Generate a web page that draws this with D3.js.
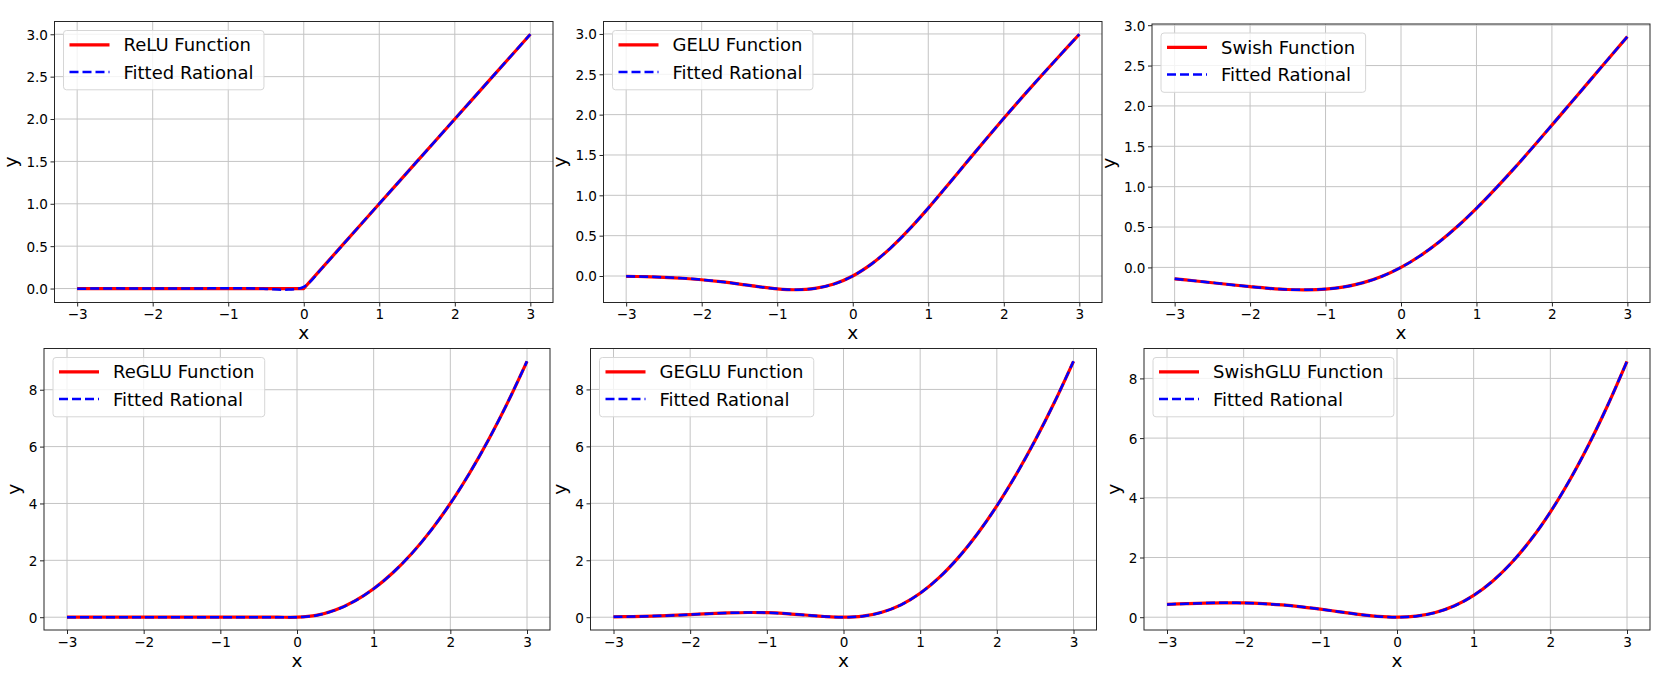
<!DOCTYPE html>
<html>
<head>
<meta charset="utf-8">
<script src="https://cdn.jsdelivr.net/npm/d3@7"></script>
<style>
  html, body { margin: 0; padding: 0; background: #fff; }
  svg { display: block; font-family: "DejaVu Sans", sans-serif; }
</style>
</head>
<body>
<svg id="chart" width="1661" height="680"></svg>
<script>
// ---------------- data ----------------
const xs = [-3,-2.75,-2.5,-2.25,-2,-1.75,-1.5,-1.25,-1,-0.75,-0.5,-0.25,0,0.25,0.5,0.75,1,1.25,1.5,1.75,2,2.25,2.5,2.75,3];

const reluY    = [0,0,0,0,0,0,0,0,0,0,0,0,0,0.25,0.5,0.75,1,1.25,1.5,1.75,2,2.25,2.5,2.75,3];
const reluFit  = [-0.003,0.000,0.002,0.001,0.000,0.000,0.001,0.002,0.003,0.002,-0.004,-0.014,0.020,0.248,0.498,0.751,1.001,1.250,1.500,1.750,2.000,2.250,2.500,2.750,3.000];

const geluY    = [-0.004,-0.008,-0.016,-0.028,-0.046,-0.070,-0.100,-0.132,-0.159,-0.170,-0.154,-0.100,0,0.150,0.346,0.580,0.841,1.118,1.400,1.680,1.955,2.223,2.485,2.742,2.996];
const geluFit  = [-0.004,-0.008,-0.016,-0.028,-0.046,-0.070,-0.100,-0.132,-0.159,-0.170,-0.154,-0.100,0,0.150,0.346,0.580,0.841,1.118,1.400,1.680,1.955,2.223,2.485,2.742,2.996];

const swishY   = [-0.142,-0.165,-0.190,-0.215,-0.238,-0.259,-0.274,-0.278,-0.269,-0.241,-0.189,-0.110,0,0.141,0.311,0.509,0.731,0.972,1.226,1.491,1.762,2.036,2.310,2.585,2.858];
const swishFit = [-0.142,-0.165,-0.190,-0.215,-0.238,-0.259,-0.274,-0.278,-0.269,-0.241,-0.189,-0.110,0,0.141,0.311,0.509,0.731,0.972,1.226,1.491,1.762,2.036,2.310,2.585,2.858];

const regluY   = [0,0,0,0,0,0,0,0,0,0,0,0,0,0.063,0.250,0.563,1.000,1.563,2.250,3.063,4.000,5.063,6.250,7.563,9.000];
const regluFit = [0,0,0,0,0,0,0,0,0,0,0,0,0,0.063,0.250,0.563,1.000,1.563,2.250,3.063,4.000,5.063,6.250,7.563,9.000];

const gegluY   = [0.012,0.023,0.039,0.062,0.091,0.123,0.150,0.165,0.159,0.128,0.077,0.025,0,0.037,0.173,0.435,0.841,1.397,2.100,2.940,3.909,5.001,6.211,7.540,8.988];
const gegluFit = [0.012,0.023,0.039,0.062,0.091,0.123,0.150,0.165,0.159,0.128,0.077,0.025,0,0.037,0.173,0.435,0.841,1.397,2.100,2.940,3.909,5.001,6.211,7.540,8.988];

const swishgluY   = [0.427,0.454,0.474,0.483,0.477,0.453,0.411,0.348,0.269,0.181,0.094,0.027,0,0.035,0.156,0.382,0.731,1.215,1.840,2.609,3.523,4.580,5.776,7.109,8.573];
const swishgluFit = [0.427,0.454,0.474,0.483,0.477,0.453,0.411,0.348,0.269,0.181,0.094,0.027,0,0.035,0.156,0.382,0.731,1.215,1.840,2.609,3.523,4.580,5.776,7.109,8.573];

const functionNames = ["ReLU Function","GELU Function","Swish Function","ReGLU Function","GEGLU Function","SwishGLU Function"];
const fitLabel = "Fitted Rational";
const xTicks = [-3,-2,-1,0,1,2,3];
const yTicksTop = [0,0.5,1,1.5,2,2.5,3];
const yTicksBottom = [0,2,4,6,8];

// ---------------- layout ----------------
const panels = [
  {fn: reluY,     fit: reluFit,     name: functionNames[0], yt: yTicksTop,    fmt: d3.format(".1f"), l: 54.5,  r: 553,    t: 21.5, b: 302.5, linearFn: true},
  {fn: geluY,     fit: geluFit,     name: functionNames[1], yt: yTicksTop,    fmt: d3.format(".1f"), l: 603.5, r: 1102,   t: 21.5, b: 302.5},
  {fn: swishY,    fit: swishFit,    name: functionNames[2], yt: yTicksTop,    fmt: d3.format(".1f"), l: 1152,  r: 1650,   t: 24,   b: 302.5},
  {fn: regluY,    fit: regluFit,    name: functionNames[3], yt: yTicksBottom, fmt: d3.format("d"),   l: 44,    r: 550,    t: 348.5, b: 630},
  {fn: gegluY,    fit: gegluFit,    name: functionNames[4], yt: yTicksBottom, fmt: d3.format("d"),   l: 590.5, r: 1096.5, t: 348.5, b: 630},
  {fn: swishgluY, fit: swishgluFit, name: functionNames[5], yt: yTicksBottom, fmt: d3.format("d"),   l: 1144,  r: 1650,   t: 348.5, b: 630}
];

const svg = d3.select("#chart");
const minus = s => String(s).replace("-", "\u2212");
const TICK_FS = 13.6;

panels.forEach(p => {
  const xExt = d3.extent(xs);
  const xPad = (xExt[1] - xExt[0]) * 0.05;
  const x = d3.scaleLinear().domain([xExt[0] - xPad, xExt[1] + xPad]).range([p.l, p.r]);
  const yExt = d3.extent(p.fn.concat(p.fit));
  const yPad = (yExt[1] - yExt[0]) * 0.05;
  const y = d3.scaleLinear().domain([yExt[0] - yPad, yExt[1] + yPad]).range([p.b, p.t]);

  const g = svg.append("g");

  // grid
  const grid = g.append("g").attr("stroke", "#c4c4c4").attr("stroke-width", 1);
  xTicks.forEach(v => grid.append("line")
    .attr("x1", x(v)).attr("x2", x(v)).attr("y1", p.t).attr("y2", p.b));
  p.yt.forEach(v => grid.append("line")
    .attr("x1", p.l).attr("x2", p.r).attr("y1", y(v)).attr("y2", y(v)));

  // axes
  const xAxis = d3.axisBottom(x).tickValues(xTicks).tickSize(4).tickPadding(3)
    .tickFormat(d => minus(d3.format("d")(d)));
  const yAxis = d3.axisLeft(y).tickValues(p.yt).tickSize(4).tickPadding(3)
    .tickFormat(d => minus(p.fmt(d)));

  const gx = g.append("g").attr("transform", `translate(0,${p.b})`).call(xAxis);
  const gy = g.append("g").attr("transform", `translate(${p.l},0)`).call(yAxis);
  [gx, gy].forEach(a => {
    a.attr("font-size", TICK_FS).attr("font-family", "DejaVu Sans");
    a.select(".domain").remove();
    a.selectAll(".tick line").attr("stroke", "#262626").attr("stroke-width", 1);
    a.selectAll(".tick text").attr("fill", "#000").attr("font-size", TICK_FS)
      .attr("font-family", "DejaVu Sans");
  });
  gx.selectAll(".tick text").attr("dy", null).attr("y", 16.6);
  gy.selectAll(".tick text").attr("dy", "0.36em").attr("x", -6.5);

  // lines
  const lineFn = d3.line().x((d, i) => x(xs[i])).y(d => y(d))
    .curve(p.linearFn ? d3.curveLinear : d3.curveCatmullRom.alpha(0.5));
  const lineFit = d3.line().x((d, i) => x(xs[i])).y(d => y(d))
    .curve(d3.curveCatmullRom.alpha(0.5));

  g.append("path").datum(p.fn).attr("d", lineFn)
    .attr("fill", "none").attr("stroke", "#ff0000").attr("stroke-width", 3.2)
    .attr("stroke-linejoin", "round");
  g.append("path").datum(p.fit).attr("d", lineFit)
    .attr("fill", "none").attr("stroke", "#0000ff").attr("stroke-width", 2.5)
    .attr("stroke-dasharray", "9,4").attr("stroke-linejoin", "round");

  // frame
  g.append("rect").attr("x", p.l).attr("y", p.t)
    .attr("width", p.r - p.l).attr("height", p.b - p.t)
    .attr("fill", "none").attr("stroke", "#262626").attr("stroke-width", 1);

  // axis labels
  g.append("text").attr("x", (p.l + p.r) / 2).attr("y", p.b + 36.5)
    .attr("text-anchor", "middle").attr("font-size", 18.5).text("x");
  let minLeft = Infinity;
  gy.selectAll(".tick text").each(function() {
    const bb = this.getBBox();
    minLeft = Math.min(minLeft, bb.x + p.l);
  });
  const ly = (p.t + p.b) / 2;
  const lx = minLeft - 9;
  g.append("text").attr("transform", `translate(${lx},${ly}) rotate(-90)`)
    .attr("text-anchor", "middle").attr("font-size", 18.5).text("y");

  // legend
  const bx = p.l + 9, by = p.t + 9;
  const leg = g.append("g");
  const box = leg.append("rect").attr("x", bx).attr("y", by).attr("height", 59.3)
    .attr("rx", 3).attr("ry", 3).attr("fill", "#fff").attr("fill-opacity", 0.8)
    .attr("stroke", "#d6d6d6").attr("stroke-width", 1);
  const rows = [
    {label: p.name, color: "#ff0000", w: 3.2, dash: null},
    {label: fitLabel, color: "#0000ff", w: 2.5, dash: "9,4"}
  ];
  let maxW = 0;
  rows.forEach((r, i) => {
    const cy = by + 14.3 + i * 27.3;
    leg.append("line").attr("x1", bx + 6).attr("x2", bx + 46).attr("y1", cy).attr("y2", cy)
      .attr("stroke", r.color).attr("stroke-width", r.w)
      .attr("stroke-dasharray", r.dash);
    const t = leg.append("text").attr("x", bx + 60).attr("y", cy).attr("dy", "0.36em")
      .attr("font-size", 18).attr("fill", "#000").text(r.label);
    maxW = Math.max(maxW, t.node().getComputedTextLength());
  });
  box.attr("width", 60 + maxW + 10.4);
});
</script>
</body>
</html>
